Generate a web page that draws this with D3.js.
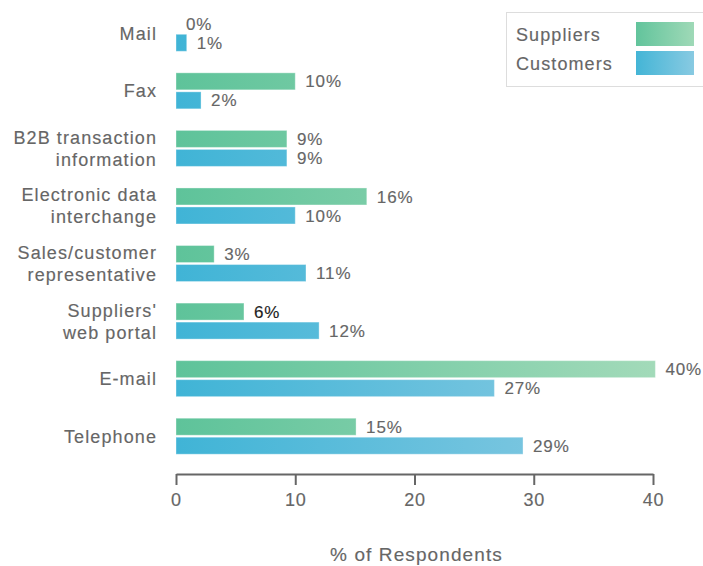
<!DOCTYPE html>
<html><head><meta charset="utf-8">
<script src="https://cdn.jsdelivr.net/npm/d3@7"></script>
<style>body{margin:0;background:#fff}svg{display:block}</style>
</head><body>
<svg id="c" width="703" height="566"></svg>
<script>
const categories = [["Mail"],["Fax"],["B2B transaction","information"],["Electronic data","interchange"],["Sales/customer","representative"],["Suppliers'","web portal"],["E-mail"],["Telephone"]];
const suppliers = [0, 10, 9.3, 16, 3.2, 5.7, 40.2, 15.1];
const customers = [0.9, 2.1, 9.3, 10, 10.9, 12, 26.7, 29.1];
const supplierLabels = ["0%","10%","9%","16%","3%","6%","40%","15%"];
const customerLabels = ["1%","2%","9%","10%","11%","12%","27%","29%"];
const xTicks = [0,10,20,30,40];
const seriesNames = ["Suppliers","Customers"];

const svg = d3.select("#c");
const font = "'Liberation Sans', Arial, Helvetica, sans-serif";
const gray = "#666";

function styleText(sel, size, ls, color){
  return sel.attr("font-family", font).attr("font-size", size)
    .attr("letter-spacing", ls).attr("fill", color || gray)
    .attr("stroke", color || gray).attr("stroke-width", 0.15);
}

const x = d3.scaleLinear().domain([0,40]).range([176,653]);
const y = d3.scaleBand().domain(d3.range(categories.length)).range([4.5,465]).paddingInner(0).paddingOuter(0);
const barH = 17, gap = 2;

const defs = svg.append("defs");
function grad(id, c0, c1){
  const g = defs.append("linearGradient").attr("id",id).attr("gradientUnits","userSpaceOnUse")
    .attr("x1",x(0)).attr("x2",x(40)).attr("y1",0).attr("y2",0);
  g.append("stop").attr("offset","0%").attr("stop-color",c0);
  g.append("stop").attr("offset","100%").attr("stop-color",c1);
}
grad("gS","#5ec39a","#a2dab9");
grad("gC","#40b4d6","#8ccbe3");
const lg = defs.append("linearGradient").attr("id","lgS").attr("x1","0").attr("x2","1");
lg.append("stop").attr("offset","0%").attr("stop-color","#62c49c");
lg.append("stop").attr("offset","100%").attr("stop-color","#9fd9b7");
const lg2 = defs.append("linearGradient").attr("id","lgC").attr("x1","0").attr("x2","1");
lg2.append("stop").attr("offset","0%").attr("stop-color","#44b5d6");
lg2.append("stop").attr("offset","100%").attr("stop-color","#88cae2");

const center = i => y(i) + y.bandwidth()/2;

const series = [
  {vals: suppliers, labels: supplierLabels, fill: "url(#gS)", off: -(barH + gap/2)},
  {vals: customers, labels: customerLabels, fill: "url(#gC)", off: gap/2}
];
series.forEach((s, si) => {
  svg.append("g").selectAll("rect").data(s.vals).join("rect")
    .attr("x", x(0)).attr("y", (d,i) => center(i) + s.off)
    .attr("width", d => x(d) - x(0)).attr("height", barH)
    .attr("fill", s.fill)
    .attr("stroke","rgba(255,255,255,0.35)").attr("stroke-width",1);
  s.vals.forEach((d, i) => {
    const t = svg.append("text").attr("x", x(d) + 10).attr("y", center(i) + s.off + barH/2)
      .attr("dy","0.36em").text(s.labels[i]);
    styleText(t, 17, 0.9, (si === 0 && i === 5) ? "#222" : gray);
  });
});

categories.forEach((lines, i) => {
  const n = lines.length;
  lines.forEach((t, k) => {
    const e = svg.append("text").attr("x", 157).attr("y", center(i) + (k - (n-1)/2) * 22)
      .attr("dy","0.36em").attr("text-anchor","end").text(t);
    styleText(e, 18, 1.1);
  });
});

const axis = svg.append("g").attr("transform","translate(0,474)")
  .call(d3.axisBottom(x).tickValues(xTicks).tickSize(11).tickPadding(8).tickSizeOuter(0));
axis.select(".domain").attr("stroke", gray).attr("stroke-width", 2);
axis.selectAll(".tick line").attr("stroke", gray).attr("stroke-width", 2);
styleText(axis.selectAll(".tick text"), 18, 0.8);

styleText(svg.append("text").attr("x", (x(0)+x(40))/2 + 2).attr("y", 554).attr("dy","0.36em")
  .attr("text-anchor","middle").text("% of Respondents"), 19, 1.1);

const leg = svg.append("g");
leg.append("rect").attr("x", 506.5).attr("y", 12.5).attr("width", 220).attr("height", 74)
  .attr("fill", "#fff").attr("stroke", "#dddddd").attr("stroke-width", 1);
["url(#lgS)","url(#lgC)"].forEach((f, i) => {
  leg.append("rect").attr("x", 636).attr("y", 22 + i*29).attr("width", 58).attr("height", 24).attr("fill", f);
  styleText(leg.append("text").attr("x", 516).attr("y", 35 + i*29).attr("dy","0.36em").text(seriesNames[i]), 18, 1.1);
});
</script>
</body></html>
